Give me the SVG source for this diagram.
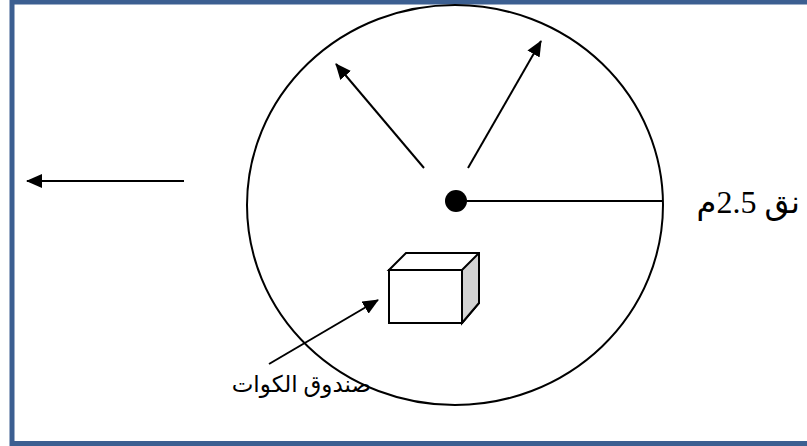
<svg xmlns="http://www.w3.org/2000/svg" width="807" height="446" viewBox="0 0 807 446">
<style>
.ln{stroke:#000;stroke-width:2;fill:none}
.lbl{font-family:"Liberation Serif","DejaVu Sans",serif;fill:#000}
</style>
<defs>
<marker id="ahL" markerWidth="16" markerHeight="14" refX="15" refY="7" orient="auto" markerUnits="userSpaceOnUse" viewBox="0 0 16 14">
<path d="M0,0 L16,7 L0,14 z" fill="#000"/>
</marker>
</defs>
<rect x="0" y="0" width="807" height="446" fill="#fff"/>
<rect x="12" y="2" width="800" height="441.5" fill="none" stroke="#3C5F91" stroke-width="5"/>
<g id="circle"><ellipse cx="455" cy="205" rx="208" ry="200" class="ln"/></g>
<g id="center"><circle cx="456" cy="201" r="11" fill="#000"/></g>
<g id="box">
<polygon points="389,270 406,253 479,253 479,303 462,323 462,270" fill="#fff" stroke="#000" stroke-width="2"/>
<polygon points="462,270 479,253 479,303 462,323" fill="#D3D3D3" stroke="#000" stroke-width="2" stroke-linejoin="round"/>
<rect x="389" y="270" width="73" height="53" fill="#fff" stroke="#000" stroke-width="2"/>
</g>
<g id="connectors">
<line x1="467" y1="201" x2="663" y2="201" class="ln"/>
<line x1="424" y1="168" x2="336" y2="64" class="ln" marker-end="url(#ahL)"/>
<line x1="468" y1="168" x2="541" y2="41" class="ln" marker-end="url(#ahL)"/>
<line x1="184" y1="181" x2="27" y2="181" class="ln" marker-end="url(#ahL)"/>
<line x1="269" y1="364" x2="378" y2="300" class="ln" marker-end="url(#ahL)"/>
</g>
<g id="label-radius"><text class="lbl" x="800" y="213" font-size="32" direction="rtl" text-anchor="start">نق 2.5م</text></g>
<g id="label-box"><text class="lbl" x="371" y="392" font-size="23" direction="rtl" text-anchor="start">صندوق الكوات</text></g>
</svg>
